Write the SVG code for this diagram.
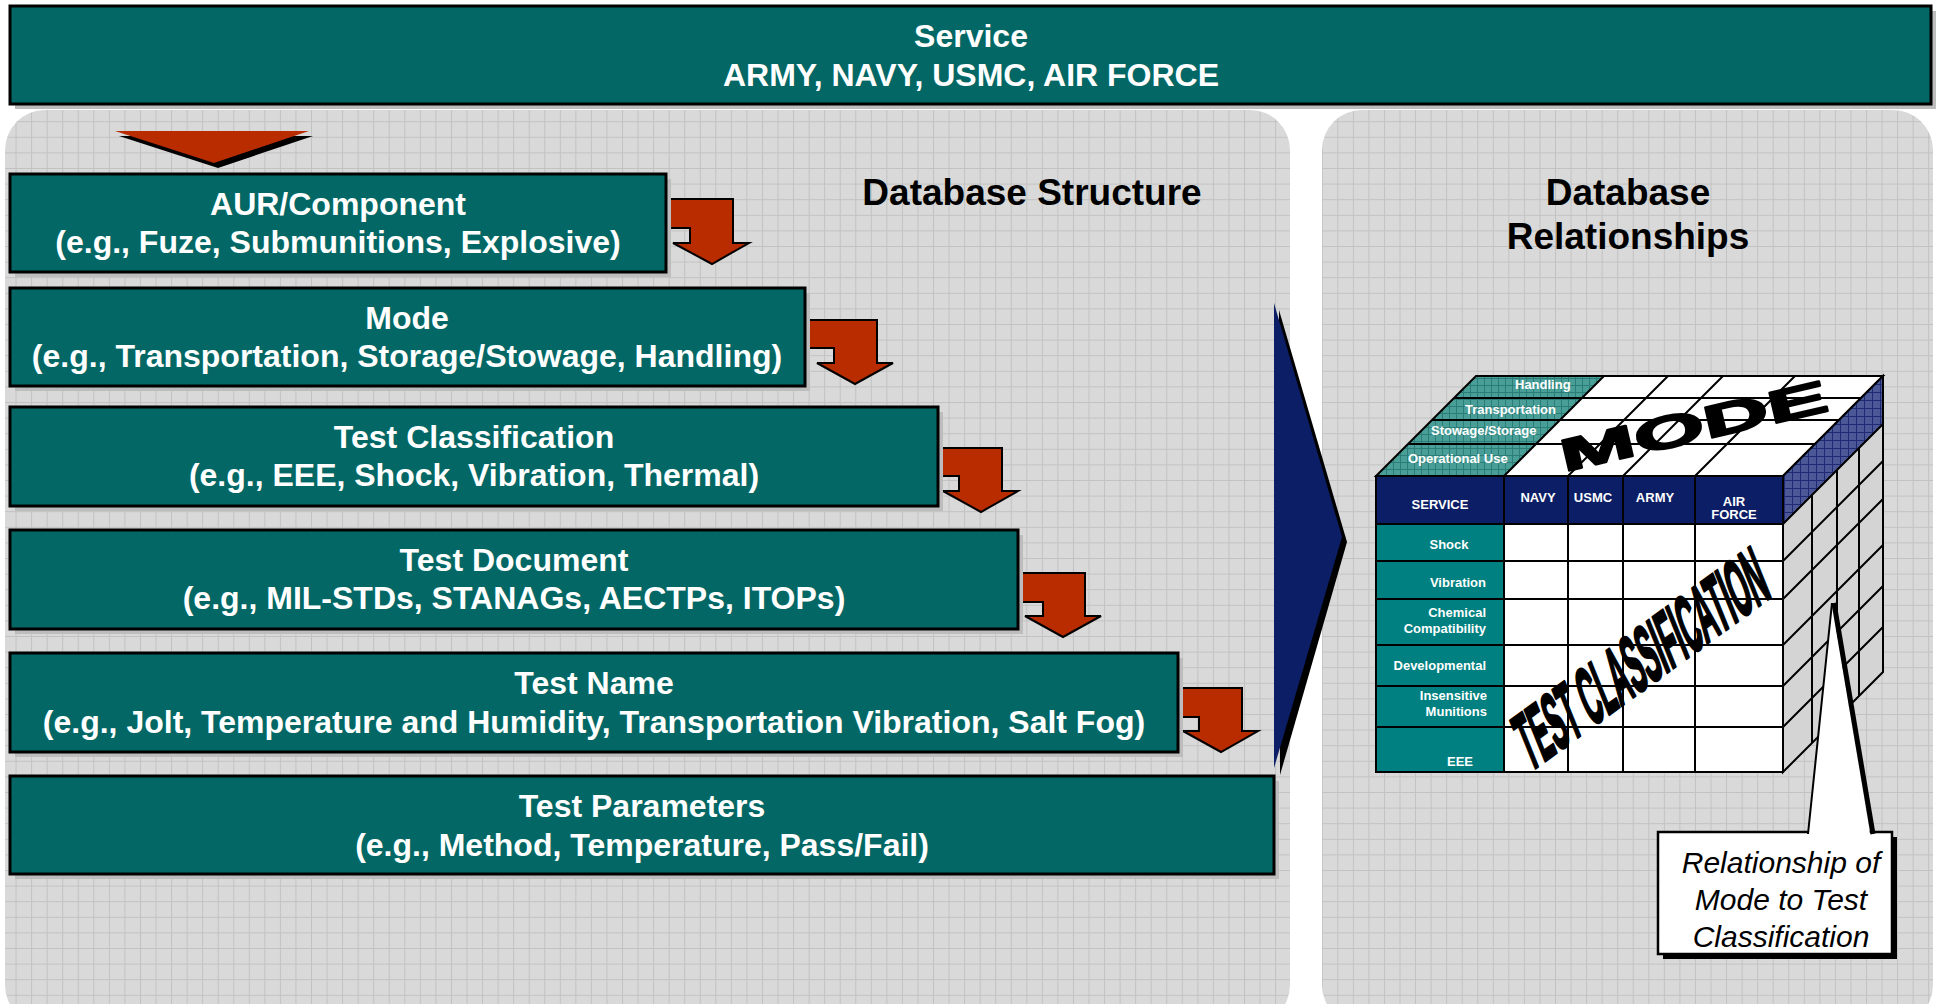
<svg xmlns="http://www.w3.org/2000/svg" width="1939" height="1004" viewBox="0 0 1939 1004">
<style>
.box{fill:#036865;stroke:#000;stroke-width:3}
.shd{fill:#bdbdbd}
.bt{font-family:"Liberation Sans",Arial,sans-serif;font-weight:bold;font-size:32px;fill:#fff;text-anchor:middle}
.hd{font-family:"Liberation Sans",Arial,sans-serif;font-weight:bold;font-size:37px;fill:#000;text-anchor:middle}
.arr{fill:#b82c00;stroke:#000;stroke-width:2;stroke-linejoin:miter}
.cl{stroke:#000;stroke-width:2;fill:none}
.ct{font-family:"Liberation Sans",Arial,sans-serif;font-weight:bold;font-size:13px;fill:#fff}
.co{font-family:"Liberation Sans",Arial,sans-serif;font-style:italic;font-size:30px;fill:#000;text-anchor:middle}
.big{font-family:"Liberation Sans",Arial,sans-serif;font-weight:bold;font-size:48px;fill:#000;stroke:#000;stroke-width:2;stroke-linejoin:round}
</style>
<defs>
<pattern id="grid" patternUnits="userSpaceOnUse" width="15.55" height="15.6" x="0" y="12">
<rect width="15.55" height="15.6" fill="#d9d9d9"/>
<path d="M0 0.5H15.55M0.5 0V15.6" stroke="#c2c2c2" stroke-width="1"/>
</pattern>
<pattern id="tealh" patternUnits="userSpaceOnUse" width="7" height="7">
<rect width="7" height="7" fill="#4a9e98"/>
<path d="M0 0.5H7M0.5 0V7" stroke="#2b7d77" stroke-width="1"/>
</pattern>
<pattern id="navyh" patternUnits="userSpaceOnUse" width="8" height="8">
<rect width="8" height="8" fill="#4b5796"/>
<path d="M0 0.5H8M0.5 0V8" stroke="#1e2a72" stroke-width="1"/>
</pattern>
</defs>
<rect width="1939" height="1004" fill="#fff"/>
<g id="panels">
<rect x="5" y="110" width="1285" height="915" rx="40" ry="40" fill="url(#grid)"/>
<rect x="1322" y="110" width="611" height="915" rx="40" ry="40" fill="url(#grid)"/>
</g>
<text class="hd" x="1032" y="205">Database Structure</text>
<text class="hd" x="1628" y="205">Database</text>
<text class="hd" x="1628" y="249">Relationships</text>
<g id="service">
<rect class="shd" x="15" y="11" width="1921" height="98"/>
<rect class="box" x="10" y="6" width="1921" height="98"/>
<text class="bt" x="971" y="47">Service</text>
<text class="bt" x="971" y="86">ARMY, NAVY, USMC, AIR FORCE</text>
</g>
<g id="connectors">
<polygon points="119,136 313,136 218,168" fill="#000"/>
<polygon points="115,131 309,131 214,163" fill="#b82c00"/>
<polygon class="arr" points="664,199 733,199 733,243 749,243 712,264 673,243 690,243 690,228 664,228"/>
<polygon class="arr" points="803,320 877,320 877,363 893,363 855,384 817,363 834,363 834,348 803,348"/>
<polygon class="arr" points="936,448 1002,448 1002,491 1018,491 981,512 943,491 959,491 959,476 936,476"/>
<polygon class="arr" points="1016,573 1085,573 1085,616 1101,616 1063,637 1025,616 1043,616 1043,602 1016,602"/>
<polygon class="arr" points="1176,688 1242,688 1242,731 1258,731 1221,752 1183,731 1199,731 1199,717 1176,717"/>
<polygon points="1279,310 1347,542 1280,775" fill="#000"/>
<polygon points="1274,303 1342,537 1274,768" fill="#0c1f66"/>
</g>
<g id="aur">
<rect class="shd" x="15" y="179" width="656" height="98"/>
<rect class="box" x="10" y="174" width="656" height="98"/>
<text class="bt" x="338" y="215">AUR/Component</text>
<text class="bt" x="338" y="253">(e.g., Fuze, Submunitions, Explosive)</text>
</g>
<g id="mode">
<rect class="shd" x="15" y="293" width="795" height="98"/>
<rect class="box" x="10" y="288" width="795" height="98"/>
<text class="bt" x="407" y="329">Mode</text>
<text class="bt" x="407" y="367">(e.g., Transportation, Storage/Stowage, Handling)</text>
</g>
<g id="testclass">
<rect class="shd" x="15" y="412" width="928" height="99"/>
<rect class="box" x="10" y="407" width="928" height="99"/>
<text class="bt" x="474" y="448">Test Classification</text>
<text class="bt" x="474" y="486">(e.g., EEE, Shock, Vibration, Thermal)</text>
</g>
<g id="testdoc">
<rect class="shd" x="15" y="535" width="1008" height="99"/>
<rect class="box" x="10" y="530" width="1008" height="99"/>
<text class="bt" x="514" y="571">Test Document</text>
<text class="bt" x="514" y="609">(e.g., MIL-STDs, STANAGs, AECTPs, ITOPs)</text>
</g>
<g id="testname">
<rect class="shd" x="15" y="658" width="1168" height="99"/>
<rect class="box" x="10" y="653" width="1168" height="99"/>
<text class="bt" x="594" y="694">Test Name</text>
<text class="bt" x="594" y="733">(e.g., Jolt, Temperature and Humidity, Transportation Vibration, Salt Fog)</text>
</g>
<g id="testparams">
<rect class="shd" x="15" y="781" width="1264" height="98"/>
<rect class="box" x="10" y="776" width="1264" height="98"/>
<text class="bt" x="642" y="817">Test Parameters</text>
<text class="bt" x="642" y="856">(e.g., Method, Temperature, Pass/Fail)</text>
</g>
<g id="cube">
<polygon points="1376,476 1783,476 1883,376 1476,376" fill="#fff"/>
<polygon points="1376,476 1504,476 1604,376 1476,376" fill="url(#tealh)"/>
<path class="cl" d="M1408,444H1815M1432,420H1839M1454,398H1861" stroke="#333"/>
<path class="cl" d="M1504,476L1604,376M1568,476L1668,376M1623,476L1723,376M1695,476L1795,376"/>
<polygon class="cl" points="1376,476 1783,476 1883,376 1476,376" stroke-width="2.5"/>
<polygon points="1783,476 1883,376 1883,672 1783,772" fill="#d4d4d4"/>
<polygon points="1783,476 1883,376 1883,424 1783,524" fill="url(#navyh)"/>
<path class="cl" d="M1783,524L1883,424M1783,561L1883,461M1783,599L1883,499M1783,645L1883,545M1783,686L1883,586M1783,727L1883,627"/>
<path class="cl" d="M1812,495V743M1837,470V718M1859,448V696"/>
<polygon class="cl" points="1783,476 1883,376 1883,672 1783,772" stroke-width="2.5"/>
<rect x="1376" y="476" width="407" height="296" fill="#fff"/>
<rect x="1376" y="476" width="407" height="48" fill="#0c1f66"/>
<rect x="1376" y="524" width="128" height="248" fill="#008080"/>
<path class="cl" d="M1376,524H1783M1376,561H1783M1376,599H1783M1376,645H1783M1376,686H1783M1376,727H1783"/>
<path class="cl" d="M1504,476V772M1568,476V772M1623,476V772M1695,476V772"/>
<rect class="cl" x="1376" y="476" width="407" height="296" stroke-width="2.5"/>
<text class="ct" x="1515" y="389">Handling</text>
<text class="ct" x="1465" y="414">Transportation</text>
<text class="ct" x="1431" y="435">Stowage/Storage</text>
<text class="ct" x="1408" y="463">Operational Use</text>
<text class="ct" x="1440" y="509" text-anchor="middle">SERVICE</text>
<text class="ct" x="1538" y="502" text-anchor="middle">NAVY</text>
<text class="ct" x="1593" y="502" text-anchor="middle">USMC</text>
<text class="ct" x="1655" y="502" text-anchor="middle">ARMY</text>
<text class="ct" x="1734" y="506" text-anchor="middle">AIR</text>
<text class="ct" x="1734" y="519" text-anchor="middle">FORCE</text>
<text class="ct" x="1449" y="549" text-anchor="middle">Shock</text>
<text class="ct" x="1486" y="587" text-anchor="end">Vibration</text>
<text class="ct" x="1486" y="617" text-anchor="end">Chemical</text>
<text class="ct" x="1486" y="633" text-anchor="end">Compatibility</text>
<text class="ct" x="1486" y="670" text-anchor="end">Developmental</text>
<text class="ct" x="1487" y="700" text-anchor="end">Insensitive</text>
<text class="ct" x="1487" y="716" text-anchor="end">Munitions</text>
<text class="ct" x="1460" y="766" text-anchor="middle">EEE</text>
<text class="big" x="0" y="0" transform="translate(1564,472) rotate(-13) scale(1.9,0.95)">MODE</text>
<text class="big" x="0" y="0" stroke-width="2.6" transform="translate(1530,772) rotate(-36) skewX(-14) scale(0.56,1.6)">TEST CLASSIFICATION</text>
</g>
<g id="callout">
<rect x="1663" y="837" width="234" height="122" fill="#000"/>
<rect x="1658" y="832" width="234" height="122" fill="#fff" stroke="#000" stroke-width="2.5"/>
<polygon points="1808,834 1832,603 1870,834" fill="#fff"/>
<path d="M1808,834L1832,603" stroke="#000" stroke-width="2" fill="none"/>
<path d="M1834,603L1873,834" stroke="#000" stroke-width="5" fill="none"/>
<text class="co" x="1781" y="873">Relationship of</text>
<text class="co" x="1781" y="910">Mode to Test</text>
<text class="co" x="1781" y="947">Classification</text>
</g>
</svg>
